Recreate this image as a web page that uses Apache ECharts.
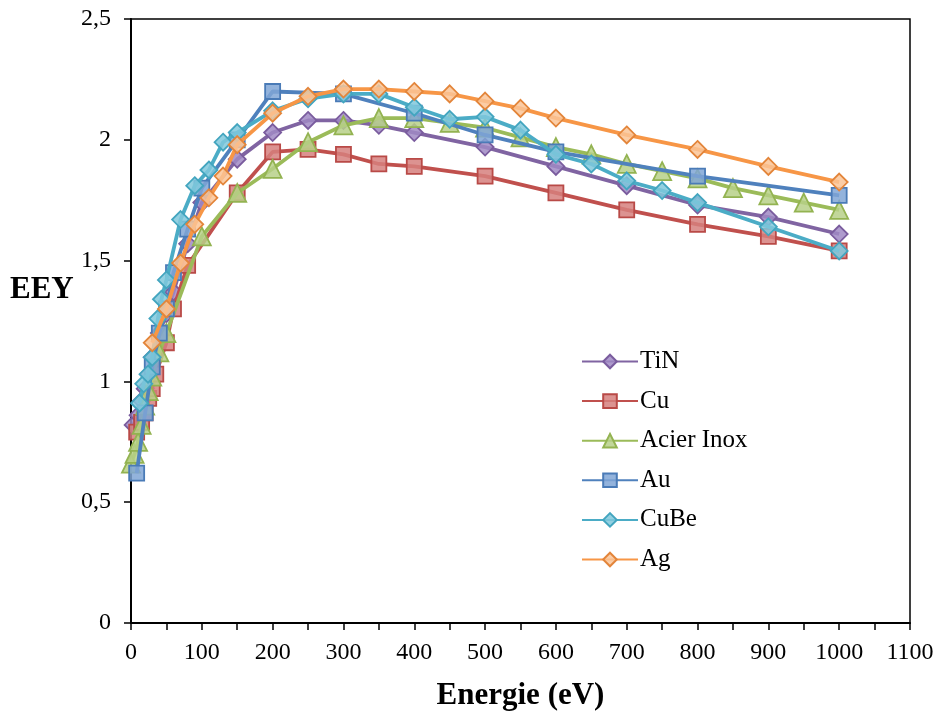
<!DOCTYPE html>
<html>
<head>
<meta charset="utf-8">
<script src="https://cdn.jsdelivr.net/npm/echarts@6/dist/echarts.min.js"></script>
<style>html,body{margin:0;padding:0;background:#fff}#c{width:945px;height:717px}</style>
</head>
<body>
<div id="c"></div>
<script>
var xTicks = [0,100,200,300,400,500,600,700,800,900,1000,1100];
var yTicks = [0,0.5,1,1.5,2,2.5];

var seriesNames = ["TiN","Cu","Acier Inox","Au","CuBe","Ag"];

var tinE = [3,10,15,20,25,30,40,50,60,80,100,150,200,250,300,350,400,500,600,700,800,900,1000];
var tinY = [0.82,0.86,0.92,0.97,1.03,1.10,1.20,1.28,1.37,1.57,1.74,1.92,2.03,2.08,2.08,2.06,2.03,1.97,1.89,1.81,1.73,1.68,1.61];

var cuE = [8,15,20,25,30,35,50,60,80,150,200,250,300,350,400,500,600,700,800,900,1000];
var cuY = [0.79,0.83,0.87,0.93,0.97,1.03,1.16,1.30,1.48,1.78,1.95,1.96,1.94,1.90,1.89,1.85,1.78,1.71,1.65,1.60,1.54];

var inoxE = [0,5,10,15,20,25,30,40,50,100,150,200,250,300,350,400,450,500,550,600,650,700,750,800,850,900,950,1000];
var inoxY = [0.66,0.70,0.75,0.82,0.90,0.96,1.02,1.12,1.20,1.60,1.78,1.88,1.99,2.06,2.09,2.09,2.07,2.05,2.01,1.97,1.94,1.90,1.87,1.84,1.80,1.77,1.74,1.71];

var auE = [8,20,30,40,50,60,80,100,150,200,300,400,500,600,800,1000];
var auY = [0.62,0.87,1.06,1.20,1.30,1.45,1.63,1.80,2.00,2.20,2.19,2.11,2.02,1.95,1.85,1.77];

var cubeE = [12,18,24,30,38,43,50,70,90,110,130,150,200,250,300,350,400,450,500,550,600,650,700,750,800,900,1000];
var cubeY = [0.91,0.99,1.03,1.10,1.26,1.34,1.42,1.67,1.81,1.875,1.99,2.03,2.12,2.17,2.19,2.19,2.135,2.085,2.095,2.04,1.94,1.90,1.83,1.79,1.74,1.64,1.54];

var agE = [30,50,70,90,110,130,150,200,250,300,350,400,450,500,550,600,700,800,900,1000];
var agY = [1.16,1.30,1.49,1.65,1.76,1.85,1.98,2.11,2.18,2.21,2.21,2.20,2.19,2.16,2.13,2.09,2.02,1.96,1.89,1.825];

var allE = [tinE,cuE,inoxE,auE,cubeE,agE];
var allY = [tinY,cuY,inoxY,auY,cubeY,agY];
var lineColors = ["#8064A2","#C0504D","#9BBB59","#4F81BD","#4BACC6","#F79646"];
var fillColors = ["rgba(160,138,196,0.85)","rgba(214,128,126,0.85)","rgba(183,208,136,0.85)","rgba(128,166,214,0.85)","rgba(128,200,220,0.85)","rgba(250,196,150,0.85)"];
var borderColors = ["#7a5c9e","#b94a47","#93b351","#4a7bb7","#43a5bf","#e3853a"];
var symbols = ["diamond","rect","triangle","rect","diamond","diamond"];
var sizes = [17,15,18,15,17,17];

var FONT = "Liberation Serif";

var series = seriesNames.map(function(n,i){
  return {
    name: n,
    type: 'line',
    data: allE[i].map(function(e,k){return [e, allY[i][k]];}),
    symbol: symbols[i],
    symbolSize: sizes[i],
    showAllSymbol: true,
    lineStyle: {color: lineColors[i], width: 3.8},
    itemStyle: {color: fillColors[i], borderColor: borderColors[i], borderWidth: 1.8},
    emphasis: {disabled: true},
    animation: false,
    z: 2 + i
  };
});

var chart = echarts.init(document.getElementById('c'), null, {renderer: 'canvas'});
chart.setOption({
  animation: false,
  backgroundColor: '#fff',
  grid: {left: 131, right: 35, top: 19, bottom: 94, outerBoundsMode: 'none', containLabel: false,
    show: true, borderColor: '#000', borderWidth: 1.5, backgroundColor: 'transparent'},
  legend: {
    orient: 'vertical', left: 576, top: 344,
    itemWidth: 56, itemHeight: 17, itemGap: 14.6,
    textStyle: {fontFamily: FONT, fontSize: 25, color: '#000', padding: [0,0,0,-3]},
    data: seriesNames
  },
  graphic: [{
    type: 'text', left: 10, top: 274,
    style: {text: 'EEY', fontFamily: FONT, fontSize: 31, fontWeight: 'bold', fill: '#000'}
  }],
  xAxis: {
    type: 'value', min: 0, max: 1100, interval: 100,
    axisLine: {show: true, lineStyle: {color: '#000', width: 2}},
    axisTick: {show: true, inside: false, length: 7, lineStyle: {color: '#000', width: 1.5}},
    minorTick: {show: true, splitNumber: 2, length: 7, lineStyle: {color: '#000', width: 1.5}},
    splitLine: {show: false},
    axisLabel: {fontFamily: FONT, fontSize: 24, color: '#000', margin: 18,
      formatter: function(v){ return xTicks.indexOf(v) >= 0 ? String(v) : ''; }},
    name: 'Energie (eV)', nameLocation: 'middle', nameGap: 57,
    nameTextStyle: {fontFamily: FONT, fontSize: 31, fontWeight: 'bold', color: '#000'}
  },
  yAxis: {
    type: 'value', min: 0, max: 2.5, interval: 0.5,
    axisLine: {show: true, lineStyle: {color: '#000', width: 2}},
    axisTick: {show: true, inside: false, length: 7, lineStyle: {color: '#000', width: 1.5}},
    splitLine: {show: false},
    axisLabel: {fontFamily: FONT, fontSize: 24, color: '#000', margin: 20,
      formatter: function(v){ return yTicks.indexOf(v) >= 0 ? String(v).replace('.', ',') : ''; }}
  },
  series: series
});
</script>
</body>
</html>
